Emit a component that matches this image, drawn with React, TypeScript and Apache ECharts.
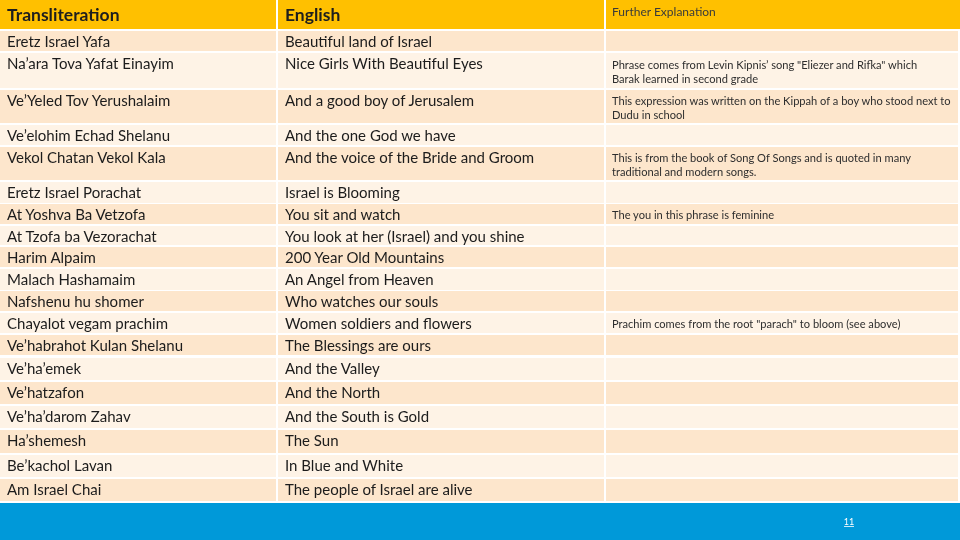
import React, { useEffect, useRef } from "react";
import * as echarts from "echarts";

const headers = ["Transliteration", "English", "Further Explanation"];

const transliteration = [
  "Eretz Israel Yafa",
  "Na’ara Tova Yafat Einayim",
  "Ve’Yeled Tov Yerushalaim",
  "Ve’elohim Echad Shelanu",
  "Vekol Chatan Vekol Kala",
  "Eretz Israel Porachat",
  "At Yoshva Ba Vetzofa",
  "At Tzofa ba Vezorachat",
  "Harim Alpaim",
  "Malach Hashamaim",
  "Nafshenu hu shomer",
  "Chayalot vegam prachim",
  "Ve’habrahot Kulan Shelanu",
  "Ve’ha’emek",
  "Ve’hatzafon",
  "Ve’ha’darom Zahav",
  "Ha’shemesh",
  "Be’kachol Lavan",
  "Am Israel Chai",
];

const english = [
  "Beautiful land of Israel",
  "Nice Girls With Beautiful Eyes",
  "And a good boy of Jerusalem",
  "And the one God we have",
  "And the voice of the Bride and Groom",
  "Israel is Blooming",
  "You sit and watch",
  "You look at her (Israel) and you shine",
  "200 Year Old Mountains",
  "An Angel from Heaven",
  "Who watches our souls",
  "Women soldiers and flowers",
  "The Blessings are ours",
  "And the Valley",
  "And the North",
  "And the South is Gold",
  "The Sun",
  "In Blue and White",
  "The people of Israel are alive",
];

const explanation = [
  "",
  "Phrase comes from Levin Kipnis’ song \"Eliezer and Rifka\" which\nBarak learned in second grade",
  "This expression was written on the Kippah of a boy who stood next to\nDudu in school",
  "",
  "This is from the book of Song Of Songs and is quoted in many\ntraditional and modern songs.",
  "",
  "The you in this phrase is feminine",
  "",
  "",
  "",
  "",
  "Prachim comes from the root \"parach\" to bloom (see above)",
  "",
  "",
  "",
  "",
  "",
  "",
  "",
];

const pageNumber = "11";

// layout (positions kept out of data arrays)
const ROW_TOPS = [31, 53, 90, 125, 147, 182, 204, 226, 247, 269, 291, 313, 335, 358, 382, 406, 430, 455, 479];
const ROW_BOTTOMS = [51, 88, 123, 145, 180, 203, 224, 245, 267, 290, 311, 333, 355, 380, 404, 428, 453, 477, 501];
const COLS = [
  { x: 0, w: 276, tx: 7 },
  { x: 278, w: 326, tx: 285 },
  { x: 606, w: 352, tx: 612 },
];

const FONT = "Lato, 'Open Sans', sans-serif";

export default function App() {
  const ref = useRef<HTMLDivElement>(null);
  useEffect(() => {
    if (!ref.current) return;
    const chart = echarts.init(ref.current, null, { renderer: "svg" });
    const els: any[] = [];
    els.push({ type: "rect", shape: { x: 0, y: 0, width: 960, height: 540 }, style: { fill: "#ffffff" } });
    // header
    COLS.forEach((c, i) => {
      els.push({
        type: "rect",
        shape: { x: c.x, y: 0, width: i === 2 ? 960 - c.x : c.w, height: 29 },
        style: { fill: "#FFC000" },
      });
    });
    els.push({
      type: "text",
      x: COLS[0].tx,
      y: 14.5,
      style: { text: headers[0], font: `bold 17.5px ${FONT}`, fill: "#1e1e1e", verticalAlign: "middle" },
    });
    els.push({
      type: "text",
      x: COLS[1].tx,
      y: 14.5,
      style: { text: headers[1], font: `bold 17.5px ${FONT}`, fill: "#1e1e1e", verticalAlign: "middle" },
    });
    els.push({
      type: "text",
      x: COLS[2].tx,
      y: 11,
      style: { text: headers[2], font: `12px ${FONT}`, fill: "#3a3a3a", verticalAlign: "middle" },
    });
    transliteration.forEach((t, r) => {
      const top = ROW_TOPS[r];
      const bot = ROW_BOTTOMS[r];
      const fill = r % 2 === 0 ? "#FDE6CC" : "#FEF3E6";
      COLS.forEach((c) => {
        els.push({ type: "rect", shape: { x: c.x, y: top, width: c.w, height: bot - top }, style: { fill } });
      });
      els.push({
        type: "text",
        x: COLS[0].tx,
        y: top + 9.5,
        style: { text: t, font: `15px ${FONT}`, fill: "#1c1c1c", verticalAlign: "middle" },
      });
      els.push({
        type: "text",
        x: COLS[1].tx,
        y: top + 9.5,
        style: { text: english[r], font: `15px ${FONT}`, fill: "#1c1c1c", verticalAlign: "middle" },
      });
      if (explanation[r]) {
        els.push({
          type: "text",
          x: COLS[2].tx,
          y: (top + bot) / 2 + 0.5,
          style: {
            text: explanation[r],
            font: `11.1px ${FONT}`,
            lineHeight: 14,
            fill: "#2e2e2e",
            verticalAlign: "middle",
          },
        });
      }
    });
    // bottom band
    els.push({ type: "rect", shape: { x: 0, y: 503, width: 960, height: 37 }, style: { fill: "#0099D9" } });
    els.push({
      type: "text",
      x: 849,
      y: 521,
      style: { text: pageNumber, font: `9px ${FONT}`, fill: "#ffffff", align: "center", verticalAlign: "middle" },
    });
    els.push({
      type: "line",
      shape: { x1: 844, y1: 526.5, x2: 854, y2: 526.5 },
      style: { stroke: "#ffffff", lineWidth: 0.8 },
    });
    chart.setOption({ animation: false, graphic: { elements: els } });
    return () => chart.dispose();
  }, []);
  return (
    <div
      ref={ref}
      style={{ position: "fixed", left: 0, top: 0, width: 960, height: 540 }}
    />
  );
}
